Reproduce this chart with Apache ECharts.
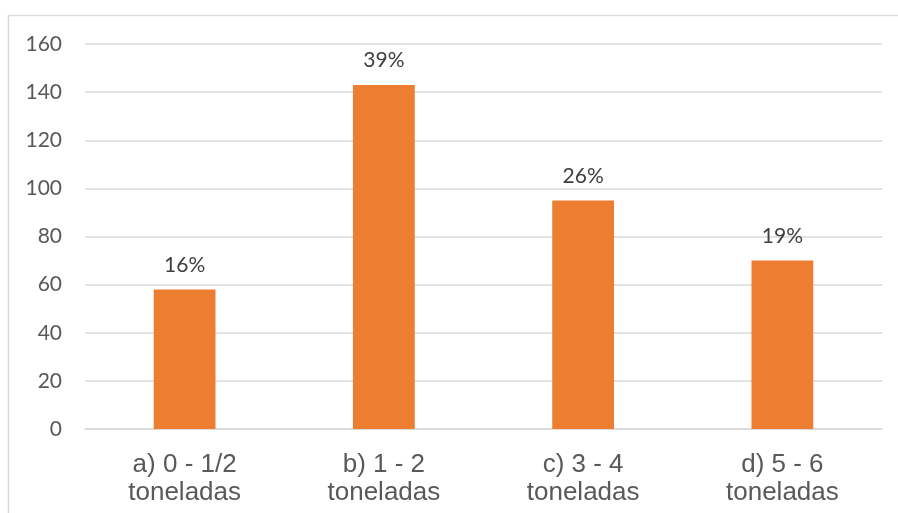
<!DOCTYPE html>
<html>
<head>
<meta charset="utf-8">
<script src="https://cdn.jsdelivr.net/npm/echarts@6/dist/echarts.min.js"></script>
<style>
  html, body { margin: 0; padding: 0; background: #fff; }
  #chart { width: 898px; height: 513px; }
</style>
</head>
<body>
<div id="chart"></div>
<script>
// Categories of truck load and number of answers for each
const categories = ['a) 0 - 1/2\ntoneladas', 'b) 1 - 2\ntoneladas', 'c) 3 - 4\ntoneladas', 'd) 5 - 6\ntoneladas'];
const counts = [58, 143, 95, 70];
const yTicks = { min: 0, max: 160, interval: 20 };

const total = counts.reduce((a, b) => a + b, 0);

const chart = echarts.init(document.getElementById('chart'), null, { renderer: 'canvas' });

chart.setOption({
  animation: false,
  backgroundColor: '#ffffff',
  graphic: [
    {
      type: 'polyline',
      silent: true,
      shape: { points: [[8.5, 513], [8.5, 15.5], [898, 15.5]] },
      style: { stroke: '#d9d9d9', lineWidth: 1.5, fill: null }
    }
  ],
  grid: { left: 85, right: 16, top: 44, bottom: 84, containLabel: false },
  xAxis: {
    type: 'category',
    data: categories,
    axisLine: { show: true, lineStyle: { color: '#d9d9d9', width: 1.5 } },
    axisTick: { show: false },
    axisLabel: {
      color: '#595959',
      fontFamily: 'Liberation Sans, Arial, sans-serif',
      fontSize: 26,
      lineHeight: 28,
      margin: 22
    }
  },
  yAxis: {
    type: 'value',
    min: yTicks.min,
    max: yTicks.max,
    interval: yTicks.interval,
    axisLine: { show: false },
    axisTick: { show: false },
    splitLine: { lineStyle: { color: '#d9d9d9', width: 1.5 } },
    axisLabel: {
      color: '#595959',
      fontFamily: 'Lato, Calibri, sans-serif',
      fontSize: 21,
      margin: 23
    }
  },
  series: [
    {
      type: 'bar',
      data: counts,
      barWidth: '31%',
      itemStyle: { color: '#ed7d31' },
      label: {
        show: true,
        position: 'top',
        distance: 14,
        color: '#404040',
        fontFamily: 'Lato, Calibri, sans-serif',
        fontSize: 21,
        formatter: p => Math.round(p.value / total * 100) + '%'
      }
    }
  ]
});
</script>
</body>
</html>
